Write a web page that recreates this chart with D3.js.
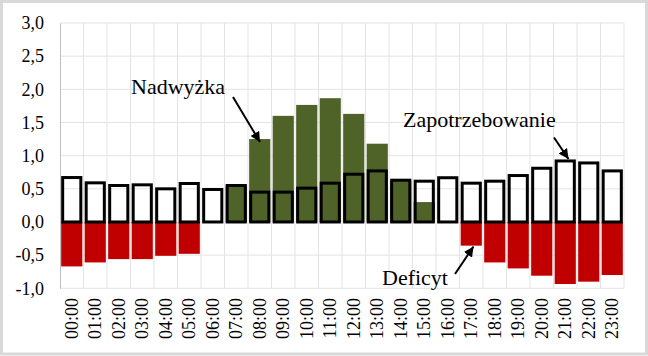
<!DOCTYPE html>
<html><head><meta charset="utf-8">
<script src="https://cdn.jsdelivr.net/npm/d3@7"></script>
<style>html,body{margin:0;padding:0;background:#fff;}svg{display:block;}</style>
</head><body>
<script>
const hours = ["00:00","01:00","02:00","03:00","04:00","05:00","06:00","07:00","08:00","09:00","10:00","11:00","12:00","13:00","14:00","15:00","16:00","17:00","18:00","19:00","20:00","21:00","22:00","23:00"];
const demand = [0.67,0.59,0.55,0.56,0.50,0.58,0.49,0.55,0.45,0.45,0.51,0.585,0.72,0.77,0.63,0.615,0.667,0.585,0.615,0.70,0.81,0.92,0.89,0.77];
const surplus = [null,null,null,null,null,null,null,0.55,1.25,1.60,1.765,1.866,1.63,1.18,0.62,0.30,null,null,null,null,null,null,null,null];
const deficit = [-0.67,-0.61,-0.56,-0.56,-0.51,-0.48,null,null,null,null,null,null,null,null,null,null,null,-0.357,-0.61,-0.70,-0.81,-0.935,-0.90,-0.80];
const yTicks = [-1,-0.5,0,0.5,1,1.5,2,2.5,3];
const labels = [
  {text:"Nadwyżka", x:131, y:94, from:[233,97], to:[260,142]},
  {text:"Zapotrzebowanie", x:403, y:127, from:[554,137.5], to:[568.5,159]},
  {text:"Deficyt", x:382, y:285, from:[455,274], to:[473.5,246.5]}
];

const W = 648, H = 356;
const svg = d3.select("body").append("svg").attr("width", W).attr("height", H);
const font = "'Liberation Serif','Times New Roman',serif";

svg.append("rect").attr("x",1.5).attr("y",1.5).attr("width",W-3).attr("height",H-3.5)
  .attr("fill","#fff").attr("stroke","#d9d9d9").attr("stroke-width",3);

const x = d3.scaleBand().domain(hours).range([60, 624]).paddingInner(0.1).paddingOuter(0.05);
const y = d3.scaleLinear().domain([-1, 3]).range([288.3, 23]);

// gridlines
const g = svg.append("g");
g.selectAll("line.h").data(yTicks).join("line")
  .attr("x1",60).attr("x2",624).attr("y1",d=>y(d)).attr("y2",d=>y(d))
  .attr("stroke","#e3e3e3").attr("stroke-width",1);
const step = x.step();
g.selectAll("line.v").data(d3.range(1, hours.length+1)).join("line")
  .attr("x1",i=>60+i*step).attr("x2",i=>60+i*step).attr("y1",y(3)).attr("y2",y(-1))
  .attr("stroke","#e3e3e3").attr("stroke-width",1);

// y axis
const yAxis = d3.axisLeft(y).tickValues(yTicks).tickSize(0).tickPadding(16)
  .tickFormat(d => d3.format(".1f")(d).replace(".", ",").replace("−","-"));
const ya = svg.append("g").attr("transform","translate(60,0)").call(yAxis);
ya.select(".domain").attr("stroke","#bfbfbf").attr("stroke-width",1);
ya.selectAll("text").attr("font-family",font).attr("font-size",18).attr("fill","#000");

// x axis labels (low position)
const xAxis = d3.axisBottom(x).tickSize(0).tickPadding(0);
const xa = svg.append("g").attr("transform","translate(0,298)").call(xAxis);
xa.select(".domain").remove();
xa.selectAll("text").attr("font-family",font).attr("font-size",18).attr("fill","#000")
  .attr("transform","rotate(-90)").attr("text-anchor","end").attr("x",0).attr("y",0).attr("dy","0.33em");

const bw = x.bandwidth();
// surplus
svg.append("g").selectAll("rect").data(hours.map((h,i)=>({h,v:surplus[i]})).filter(d=>d.v!=null)).join("rect")
  .attr("x",d=>x(d.h)).attr("width",bw).attr("y",d=>y(d.v)).attr("height",d=>y(0)-y(d.v))
  .attr("fill","#4f6228");
// deficit
svg.append("g").selectAll("rect").data(hours.map((h,i)=>({h,v:deficit[i]})).filter(d=>d.v!=null)).join("rect")
  .attr("x",d=>x(d.h)).attr("width",bw).attr("y",y(0)).attr("height",d=>y(d.v)-y(0))
  .attr("fill","#c00000");
// demand outlines
svg.append("g").selectAll("rect").data(hours.map((h,i)=>({h,v:demand[i]}))).join("rect")
  .attr("x",d=>x(d.h)+1.5).attr("width",bw-3).attr("y",d=>y(d.v)).attr("height",d=>y(0)-y(d.v))
  .attr("fill","none").attr("stroke","#000").attr("stroke-width",3);

// annotations
svg.append("defs").append("marker").attr("id","ah").attr("viewBox","0 0 10 10")
  .attr("refX",10).attr("refY",5).attr("markerWidth",5).attr("markerHeight",5)
  .attr("markerUnits","strokeWidth").attr("orient","auto")
  .append("path").attr("d","M0,0 L10,5 L0,10 Z").attr("fill","#000");
labels.forEach(l => {
  svg.append("text").attr("x",l.x).attr("y",l.y).attr("font-family",font).attr("font-size",22)
    .attr("fill","#000").text(l.text);
  svg.append("line").attr("x1",l.from[0]).attr("y1",l.from[1]).attr("x2",l.to[0]).attr("y2",l.to[1])
    .attr("stroke","#000").attr("stroke-width",2).attr("marker-end","url(#ah)");
});
</script>
</body></html>
